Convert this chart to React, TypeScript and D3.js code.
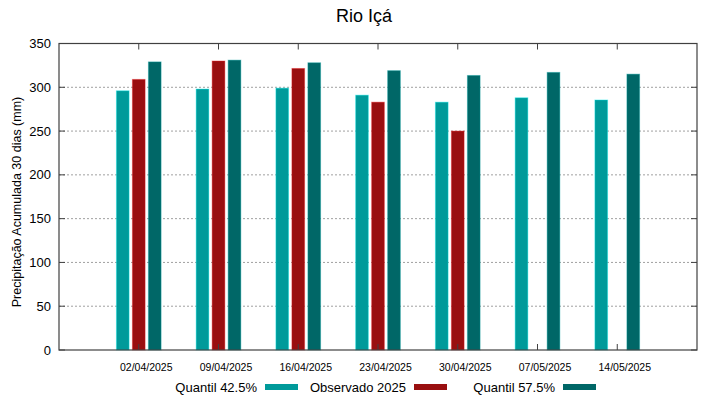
import { useEffect, useRef } from 'react'
import * as d3 from 'd3'

const DATES = ['02/04/2025', '09/04/2025', '16/04/2025', '23/04/2025', '30/04/2025', '07/05/2025', '14/05/2025']
const Q425 = [296, 298, 299, 291, 283, 288, 285.5]
const OBS = [309, 330, 321.5, 283, 250, null, null]
const Q575 = [329, 331, 328, 319, 313.5, 317, 315]
const Y_TICKS = [0, 50, 100, 150, 200, 250, 300, 350]

const SERIES = [
  { name: 'Quantil 42.5%', values: Q425, color: '#009a9a' },
  { name: 'Observado 2025', values: OBS, color: '#990f10' },
  { name: 'Quantil 57.5%', values: Q575, color: '#006767' },
]

const W = 719
const H = 399
const FONT = '"Liberation Sans", Arial, sans-serif'

export default function App() {
  const svgRef = useRef<SVGSVGElement>(null)

  useEffect(() => {
    const el = svgRef.current
    if (!el) return
    const svg = d3.select(el)
    svg.selectAll('*').remove()

    const left = 59
    const right = 697
    const top = 43.5
    const bottom = 350

    // 8 slots, dates sit on slots 1..7
    const x = d3.scaleLinear().domain([0, 8]).range([left, right])
    const y = d3.scaleLinear().domain([0, 350]).range([bottom, top])

    // grid
    svg
      .append('g')
      .selectAll('line')
      .data(Y_TICKS.filter((t) => t > 0 && t < 350))
      .join('line')
      .attr('x1', left)
      .attr('x2', right)
      .attr('y1', (d) => y(d))
      .attr('y2', (d) => y(d))
      .attr('stroke', '#a0a0a0')
      .attr('stroke-width', 1)
      .attr('stroke-dasharray', '2,2')

    // bars
    const barW = 12.7
    const step = 16
    SERIES.forEach((s, si) => {
      svg
        .append('g')
        .selectAll('rect')
        .data(s.values.map((v, i) => ({ v, i })).filter((d) => d.v != null))
        .join('rect')
        .attr('x', (d) => x(d.i + 1) + (si - 1) * step - barW / 2)
        .attr('y', (d) => y(d.v as number))
        .attr('width', barW)
        .attr('height', (d) => bottom - y(d.v as number))
        .attr('fill', s.color)
        .attr('stroke', d3.color(s.color)!.brighter(1.2).formatHex())
        .attr('stroke-opacity', 0.4)
        .attr('stroke-width', 1)
    })

    // frame
    svg
      .append('rect')
      .attr('x', left)
      .attr('y', top)
      .attr('width', right - left)
      .attr('height', bottom - top)
      .attr('fill', 'none')
      .attr('stroke', '#404040')
      .attr('stroke-width', 1.2)

    // x ticks (inward, top and bottom)
    DATES.forEach((_, i) => {
      const xx = x(i + 1)
      svg.append('line').attr('x1', xx).attr('x2', xx).attr('y1', top).attr('y2', top + 6).attr('stroke', '#404040')
      svg.append('line').attr('x1', xx).attr('x2', xx).attr('y1', bottom).attr('y2', bottom - 6).attr('stroke', '#404040')
    })
    // y ticks
    Y_TICKS.forEach((t) => {
      svg.append('line').attr('x1', left).attr('x2', left + 6).attr('y1', y(t)).attr('y2', y(t)).attr('stroke', '#404040')
      svg.append('line').attr('x1', right).attr('x2', right - 6).attr('y1', y(t)).attr('y2', y(t)).attr('stroke', '#404040')
    })

    // y tick labels
    svg
      .append('g')
      .selectAll('text')
      .data(Y_TICKS)
      .join('text')
      .attr('x', left - 8)
      .attr('y', (d) => y(d))
      .attr('dy', '0.35em')
      .attr('text-anchor', 'end')
      .attr('font-family', FONT)
      .attr('font-size', 13)
      .text((d) => d)

    // x tick labels (gnuplot puts them a bit right of the tick)
    svg
      .append('g')
      .selectAll('text')
      .data(DATES)
      .join('text')
      .attr('x', (_, i) => x(i + 1) + 7.5)
      .attr('y', 371)
      .attr('text-anchor', 'middle')
      .attr('font-family', FONT)
      .attr('font-size', 10.5)
      .text((d) => d)

    // title
    svg
      .append('text')
      .attr('x', 364)
      .attr('y', 22)
      .attr('text-anchor', 'middle')
      .attr('font-family', FONT)
      .attr('font-size', 18)
      .text('Rio Içá')

    // y label
    svg
      .append('text')
      .attr('transform', 'translate(21,202) rotate(-90)')
      .attr('text-anchor', 'middle')
      .attr('font-family', FONT)
      .attr('font-size', 12.5)
      .text('Precipitação Acumulada 30 dias (mm)')

    // legend
    const legendX = [257, 406, 555]
    SERIES.forEach((s, i) => {
      svg
        .append('text')
        .attr('x', legendX[i])
        .attr('y', 392)
        .attr('text-anchor', 'end')
        .attr('font-family', FONT)
        .attr('font-size', 13)
        .text(s.name)
      svg
        .append('rect')
        .attr('x', legendX[i] + 8)
        .attr('y', 384)
        .attr('width', 33)
        .attr('height', 6)
        .attr('fill', s.color)
    })
  }, [])

  return <svg ref={svgRef} width={W} height={H} style={{ position: 'absolute', left: 0, top: 0, display: 'block' }} />
}
